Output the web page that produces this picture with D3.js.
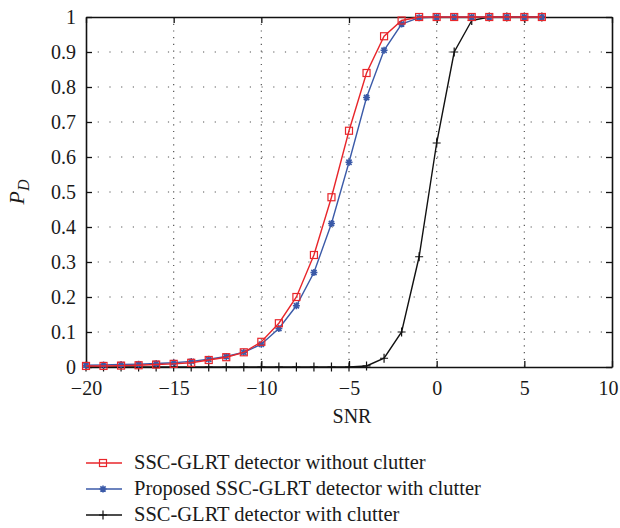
<!DOCTYPE html>
<html><head><meta charset="utf-8">
<script src="https://cdn.jsdelivr.net/npm/d3@7"></script>
<style>body{margin:0;background:#fff}svg{display:block}svg text{font-family:'Liberation Serif','Times New Roman',serif;fill:#1a1a1a}</style>
</head><body><svg id="c" width="620" height="528"></svg>
<script>
const snr = d3.range(-20, 7);
const redVals = [0.003,0.003,0.004,0.005,0.007,0.009,0.012,0.02,0.028,0.042,0.072,0.125,0.2,0.32,0.485,0.675,0.84,0.945,0.99,1,1,1,1,1,1,1,1];
const blueVals = [0.005,0.006,0.007,0.008,0.01,0.012,0.016,0.022,0.03,0.042,0.065,0.11,0.175,0.27,0.41,0.585,0.77,0.905,0.98,0.998,1,1,1,1,1,1,1];
const blackVals = [0,0,0,0,0,0,0,0,0,0,0,0,0,0,0,0,0.003,0.025,0.1,0.315,0.64,0.9,0.99,1,1,1,1];
const xTicks = [-20,-15,-10,-5,0,5,10];
const yTicks = [0,0.1,0.2,0.3,0.4,0.5,0.6,0.7,0.8,0.9,1];
const legendLabels = ["SSC-GLRT detector without clutter","Proposed SSC-GLRT detector with clutter","SSC-GLRT detector with clutter"];

const FONT = "'Liberation Serif','Times New Roman',serif";
const svg = d3.select("#c");
const L=86, R=612, T=17, B=367;
const x = d3.scaleLinear().domain([-20,10]).range([L,R]);
const y = d3.scaleLinear().domain([0,1]).range([B,T]);

// grid
const g = svg.append("g");
g.selectAll(".gx").data(xTicks.slice(1,-1)).join("line")
 .attr("x1",d=>x(d)).attr("x2",d=>x(d)).attr("y1",T).attr("y2",B)
 .attr("stroke","#555").attr("stroke-width",1.2).attr("stroke-dasharray","1.2,5.5");
g.selectAll(".gy").data(yTicks.slice(1,-1)).join("line")
 .attr("x1",L).attr("x2",R).attr("y1",d=>y(d)).attr("y2",d=>y(d))
 .attr("stroke","#555").attr("stroke-width",1.2).attr("stroke-dasharray","1.2,10.5");

// axes
const fmt = d=> d<0 ? "\u2212"+Math.abs(d) : String(d);
const ax = svg.append("g").attr("transform",`translate(0,${B})`)
 .call(d3.axisBottom(x).tickValues(xTicks).tickSizeInner(-6).tickSizeOuter(0).tickPadding(14).tickFormat(fmt));
svg.append("g").attr("transform",`translate(${L},0)`)
 .call(d3.axisLeft(y).tickValues(yTicks).tickSizeInner(-6).tickSizeOuter(0).tickPadding(10).tickFormat(d=>String(+d.toFixed(1))));
svg.append("g").attr("transform",`translate(0,${T})`)
 .call(d3.axisTop(x).tickValues(xTicks).tickSizeInner(-6).tickSizeOuter(0).tickFormat(""));
svg.append("g").attr("transform",`translate(${R},0)`)
 .call(d3.axisRight(y).tickValues(yTicks).tickSizeInner(-6).tickSizeOuter(0).tickFormat(""));
svg.selectAll("g").attr("font-family",FONT);
svg.selectAll(".domain").attr("stroke","#111").attr("stroke-width",1.6);
svg.selectAll(".tick line").attr("stroke","#111").attr("stroke-width",1.3);
svg.selectAll(".tick text").attr("font-size",20).attr("fill","#1a1a1a");
ax.selectAll(".tick text").filter(d=>d===10).attr("dx",-4);

// series
const series = [
 {vals:redVals, color:"#e8262b", marker:"square"},
 {vals:blueVals, color:"#3b5aa8", marker:"star"},
 {vals:blackVals, color:"#111", marker:"plus"}
];
function drawMarker(sel, type, color){
  if(type==="square"){
    sel.append("rect").attr("x",-3.5).attr("y",-3.5).attr("width",7).attr("height",7)
      .attr("fill","none").attr("stroke",color).attr("stroke-width",1.2);
  } else if(type==="star"){
    sel.append("path").attr("d","M-3.5,0H3.5M0,-3.5V3.5M-2.6,-2.6L2.6,2.6M-2.6,2.6L2.6,-2.6")
      .attr("stroke",color).attr("stroke-width",1.6);
    sel.append("circle").attr("r",1.6).attr("fill",color);
  } else {
    sel.append("path").attr("d","M-4,0H4M0,-4.5V4.5").attr("stroke",color).attr("stroke-width",1.2);
  }
}
const line = d3.line().x(d=>x(d[0])).y(d=>y(d[1]));
series.slice().reverse().forEach(s=>{
  const pts = snr.map((v,i)=>[v,s.vals[i]]);
  svg.append("path").datum(pts).attr("d",line).attr("fill","none").attr("stroke",s.color).attr("stroke-width",1.4);
  svg.append("g").selectAll("g").data(pts).join("g")
    .attr("transform",d=>`translate(${x(d[0])},${y(d[1])})`)
    .each(function(){drawMarker(d3.select(this),s.marker,s.color);});
});

// labels
svg.append("text").attr("x",x(-5)+3).attr("y",423).attr("text-anchor","middle").attr("font-size",20).text("SNR");
const yl = svg.append("text").attr("transform","translate(24,192) rotate(-90)").attr("text-anchor","middle").attr("font-size",22).attr("font-style","italic");
yl.append("tspan").text("P");
yl.append("tspan").attr("font-size",16).attr("dy",5).text("D");

// legend
const lg = svg.append("g");
series.forEach((s,i)=>{
  const yy = 463 + i*26;
  lg.append("line").attr("x1",86).attr("x2",122).attr("y1",yy).attr("y2",yy).attr("stroke",s.color).attr("stroke-width",1.4);
  drawMarker(lg.append("g").attr("transform",`translate(103,${yy})`), s.marker, s.color);
  lg.append("text").attr("x",134).attr("y",yy+6).attr("font-size",20.5).text(legendLabels[i]);
});
</script></body></html>
